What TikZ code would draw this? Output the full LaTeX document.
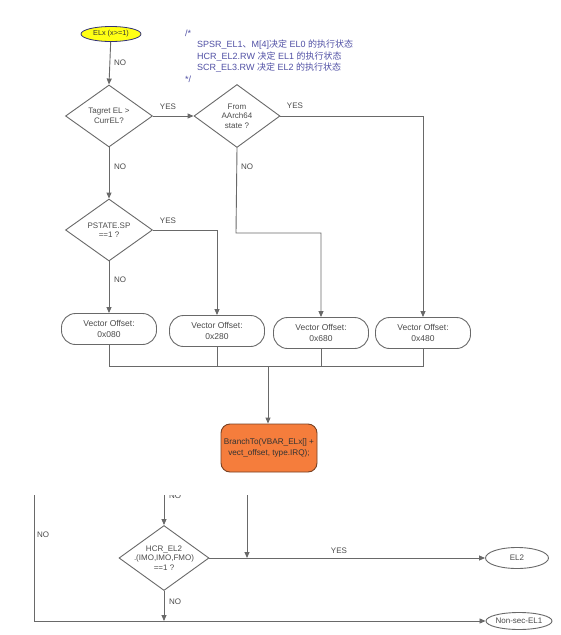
\documentclass[tikz,border=0pt]{standalone}
\usepackage{fontspec}
\setmainfont{Liberation Sans}
\newfontfamily\cjk{Noto Sans CJK SC}
\usetikzlibrary{shapes.geometric,arrows.meta}
\definecolor{linec}{RGB}{105,105,105}
\definecolor{txtc}{RGB}{75,75,75}
\definecolor{cmtc}{RGB}{80,80,165}
\definecolor{yelf}{RGB}{255,255,20}
\definecolor{yeld}{RGB}{50,50,120}
\definecolor{orf}{RGB}{245,125,60}
\definecolor{ord}{RGB}{120,65,35}
\begin{document}
\begin{tikzpicture}[x=1pt,y=-1pt,
  every node/.style={text=txtc},
  conn/.style={draw=linec,line width=0.9pt},
  arr/.style={conn,-{Triangle[length=6pt,width=5pt]}},
  dec/.style n args={2}{diamond,draw=linec,line width=0.9pt,fill=white,minimum width=#1,minimum height=#2,inner sep=0pt},
  dtext/.style={font=\fontsize{8}{9.5}\selectfont,align=center,text=txtc},
  pill/.style={rectangle,rounded corners=14pt,draw=linec,line width=0.9pt,fill=white,minimum width=95pt,minimum height=31pt,inner sep=0pt,align=center,font=\fontsize{8.5}{11}\selectfont},
  lab/.style={font=\fontsize{8}{9}\selectfont,text=txtc,inner sep=0pt},
  term/.style={ellipse,draw=linec,line width=0.9pt,fill=white,inner sep=0pt,font=\fontsize{8}{9}\selectfont},
  cmt/.style={anchor=west,inner sep=0pt,text=cmtc,font=\fontsize{9}{10}\selectfont}
]
\useasboundingbox (0,0) rectangle (561,635);
\fill[white] (0,0) rectangle (561,635);

% start
\node[ellipse,draw=yeld,line width=0.8pt,fill=yelf,minimum width=60pt,minimum height=15pt,inner sep=0pt,font=\fontsize{7.3}{8}\selectfont,text=black!80] (st) at (111,34) {ELx (x>=1)};

% comment
\node[cmt] (c0) at (185,33) {/*};
\node[cmt] (c1) at (197,45) {SPSR\_EL1{\cjk 、}M[4]{\cjk 决定} EL0 {\cjk 的执行状态}};
\node[cmt] (c2) at (197,56.5) {HCR\_EL2.RW {\cjk 决定} EL1 {\cjk 的执行状态}};
\node[cmt] (c3) at (197,68) {SCR\_EL3.RW {\cjk 决定} EL2 {\cjk 的执行状态}};
\node[cmt] (c4) at (185,79) {*/};

% decisions
\node[dec={87pt}{62pt},label={[dtext]center:{Tagret EL >\\CurrEL?}}] (d1) at (109,116) {};
\node[dec={86pt}{63pt},label={[dtext]center:{From\\AArch64\\state ?}}] (d2) at (237,116) {};
\node[dec={87pt}{62pt},label={[dtext]center:{PSTATE.SP\\==1 ?}}] (d3) at (109,230) {};

% offsets
\node[pill] (b1) at (109,329) {Vector Offset:\\0x080};
\node[pill] (b2) at (217,331) {Vector Offset:\\0x280};
\node[pill] (b3) at (321,333) {Vector Offset:\\0x680};
\node[pill] (b4) at (423,333) {Vector Offset:\\0x480};

% branch
\node[rectangle,rounded corners=9pt,draw=ord,line width=0.9pt,fill=orf,minimum width=96pt,minimum height=48pt,inner sep=0pt,align=center,font=\fontsize{8.2}{11}\selectfont,text=black!80] (bt) at (269,448) {BranchTo(VBAR\_ELx[] +\\vect\_offset, type.IRQ);};

% connectors upper
\draw[arr] (st) -- (d1.north);
\draw[arr] (d1.east) -- (d2.west);
\draw[arr] (d1.south) -- (d3.north);
\draw[arr] (d3.south) -- (b1.north);
\draw[arr] (d3.east) -| (b2.north);
\coordinate (k2) at (236,233);
\draw[arr] (d2.south) -- (k2) -| (b3.north);
\draw[arr] (d2.east) -| (b4.north);

\coordinate (m) at (268,366);
\draw[conn] (b1.south) -- (b1.south|-m) -- (b4.south|-m) -- (b4.south);
\draw[conn] (b2.south) -- (b2.south|-m);
\draw[conn] (b3.south) -- (b3.south|-m);
\draw[arr] (m) -- (m|-bt.north);

% labels upper
\node[lab] (l1) at (120,63) {NO};
\node[lab] (l2) at (168,107) {YES};
\node[lab] (l3) at (120,167) {NO};
\node[lab] (l4) at (247,167) {NO};
\node[lab] (l5) at (295,106) {YES};
\node[lab] (l6) at (168,221) {YES};
\node[lab] (l7) at (120,280) {NO};

% lower fragment
\node[dec={90pt}{65pt},label={[dtext]center:{HCR\_EL2\\.(IMO,IMO,FMO)\\==1 ?}}] (d4) at (164,558) {};
\node[term,minimum width=63pt,minimum height=21pt] (el2) at (517,558) {EL2};
\node[term,minimum width=62pt,minimum height=17pt] (ns) at (519,621) {Non-sec-EL1};

\coordinate (la) at (34,495);
\coordinate (lb) at (34,621);
\coordinate (ta) at (164,495);
\coordinate (tb) at (247,495);
\draw[arr] (la) -- (lb) -- (ns.west);
\draw[arr] (ta) -- (d4.north);
\draw[arr] (tb) -- (tb|-d4.east);
\draw[arr] (d4.east) -- (el2.west);
\draw[arr] (d4.south) -- (d4.south|-lb);

\begin{scope}
\clip (150,495) rectangle (200,520);
\node[lab] (l8) at (175,496) {NO};
\end{scope}
\node[lab] (l9) at (43,535) {NO};
\node[lab] (l10) at (339,551) {YES};
\node[lab] (l11) at (175,602) {NO};
\end{tikzpicture}
\end{document}
